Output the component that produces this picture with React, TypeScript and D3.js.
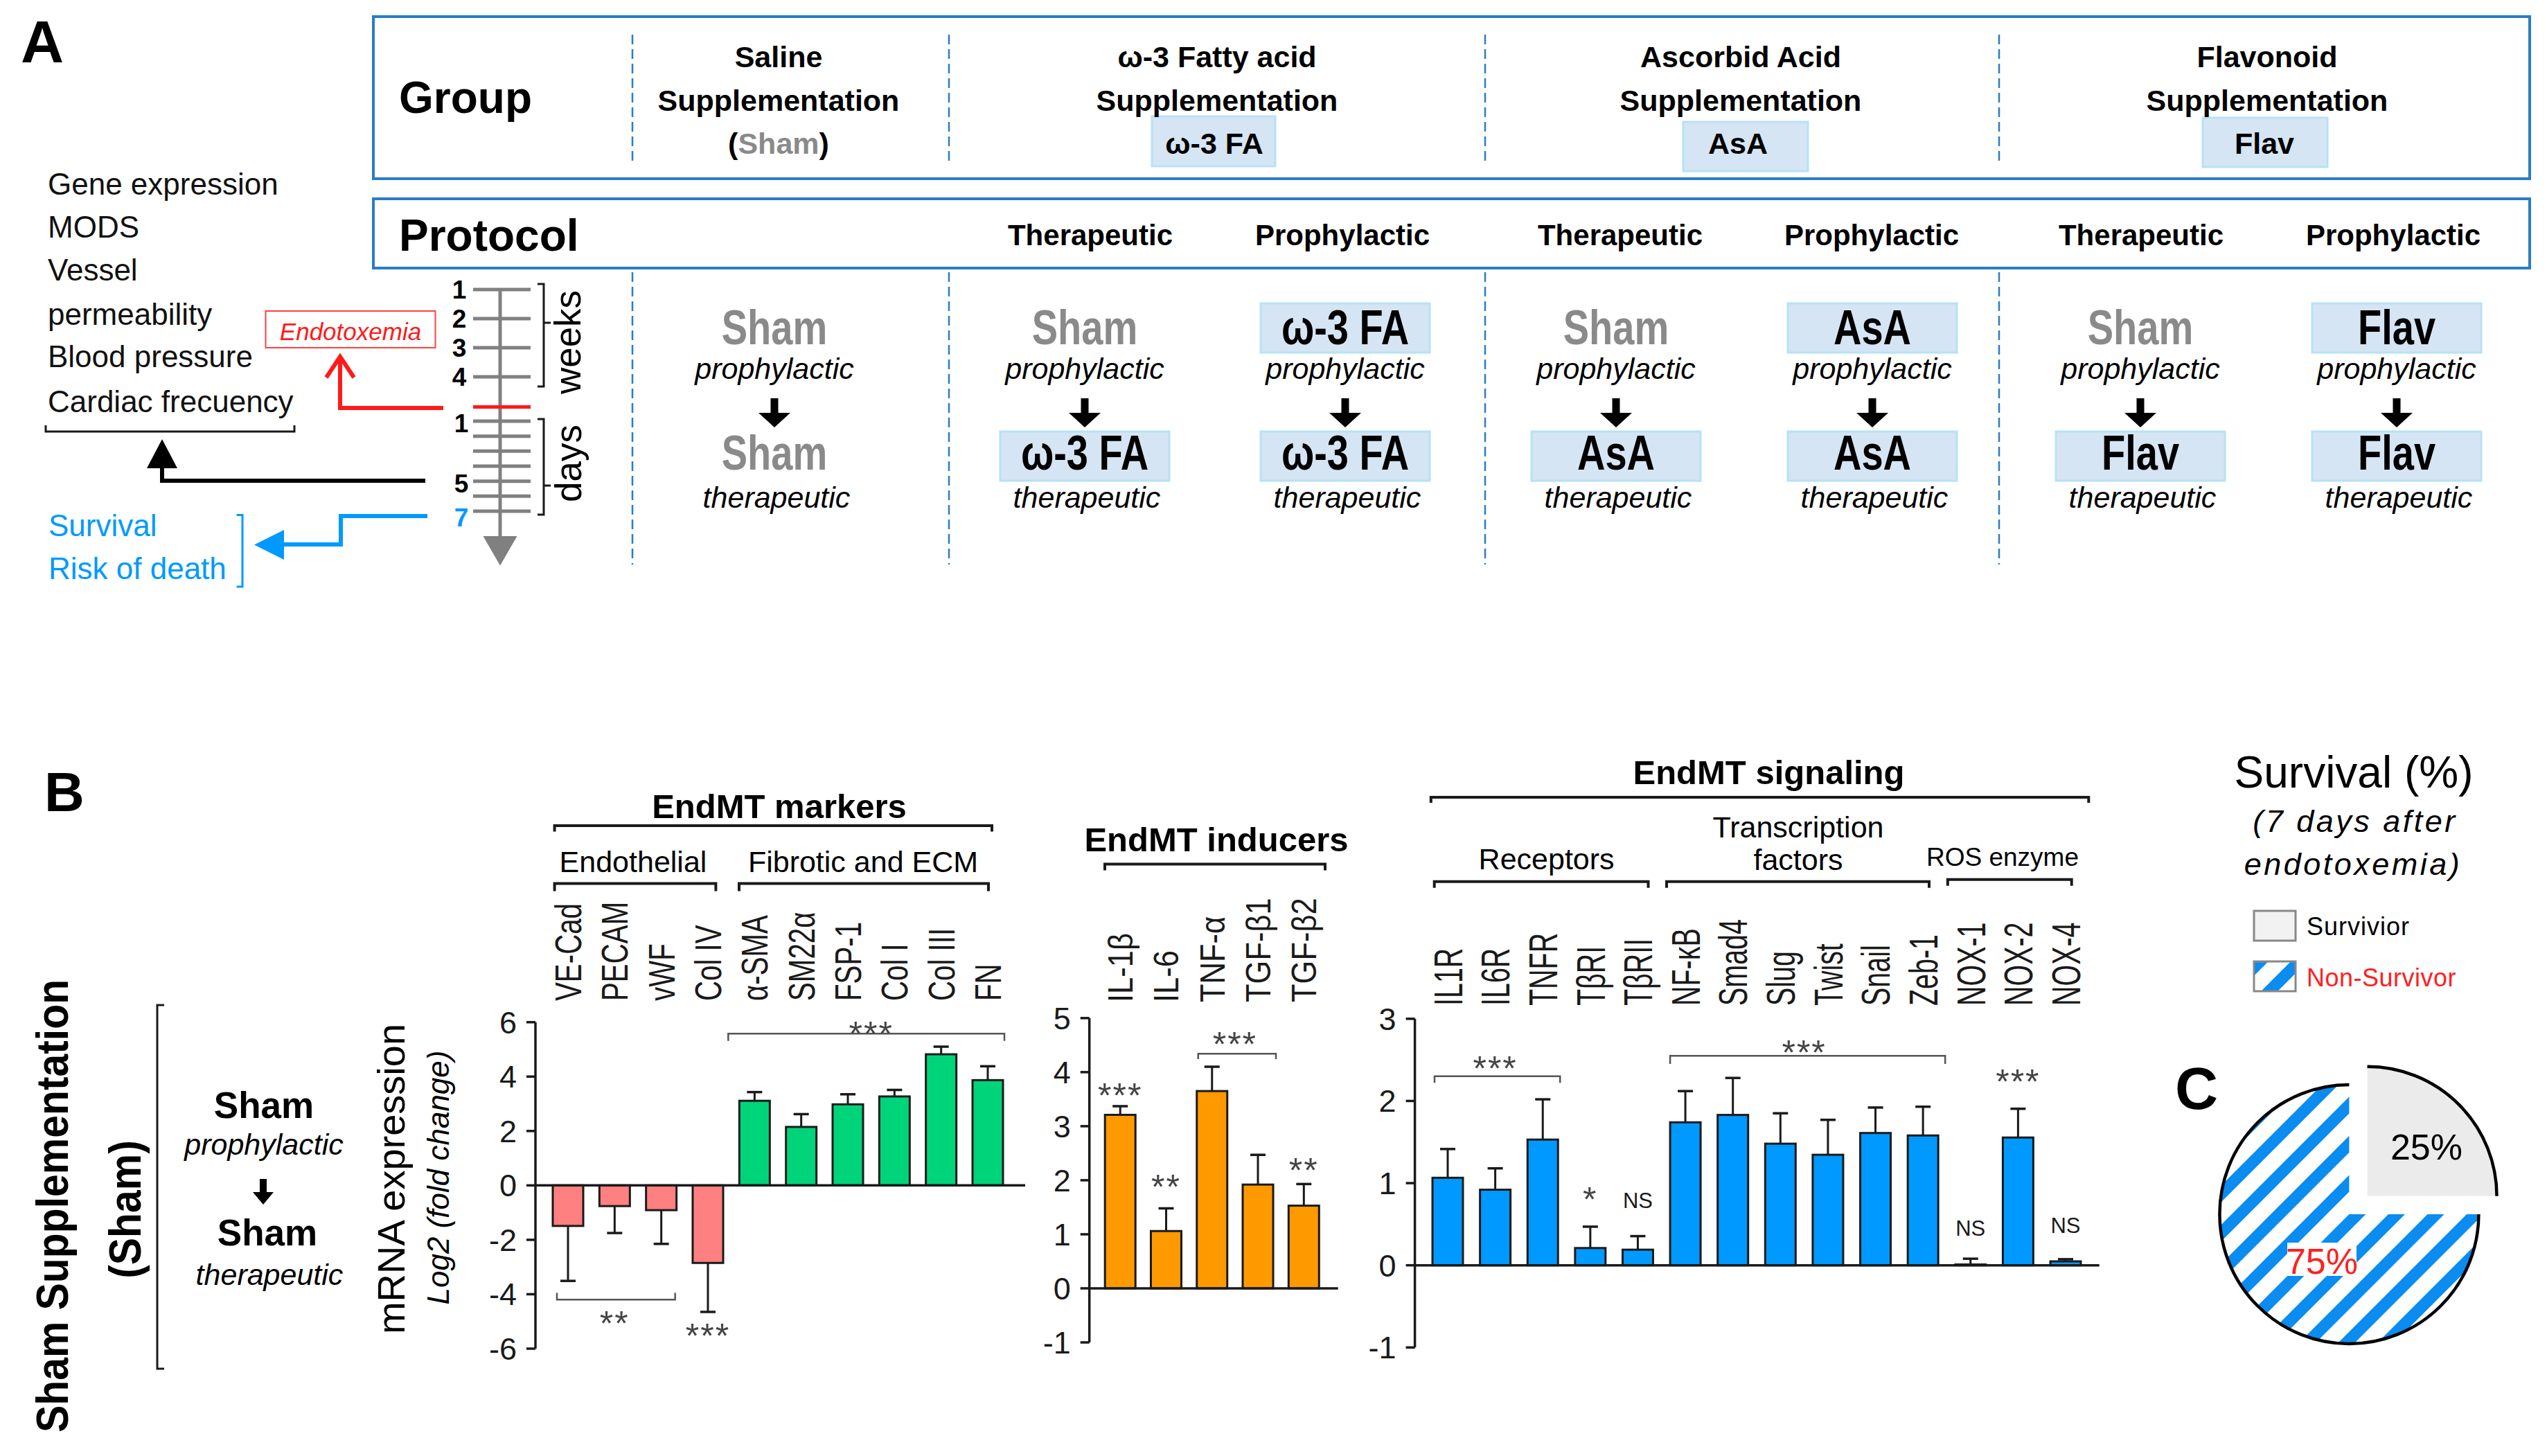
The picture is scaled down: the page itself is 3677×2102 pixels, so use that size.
import * as d3 from "d3";
import React from "react";

const SANS = "'Liberation Sans', Arial, Helvetica, sans-serif";
const INK = "#1a1a1a";
const BLUE = "#0099ff";
const FRAME = "#2a7dc6";
const BOXFILL = "#d6e5f3";
const BOXLINE = "#b6e2f7";
const GREY = "#8a8a8a";

// ---------- panel B : EndMT markers ----------
const markerCats = ["VE-Cad", "PECAM", "vWF", "Col IV", "α-SMA", "SM22α", "FSP-1", "Col I", "Col III", "FN"];
const markerVals = [-1.49, -0.76, -0.91, -2.85, 3.11, 2.15, 2.98, 3.27, 4.82, 3.87];
const markerErr = [2.02, 0.99, 1.24, 1.8, 0.32, 0.47, 0.37, 0.24, 0.28, 0.51];
const markerKind = ["endo", "endo", "endo", "endo", "fib", "fib", "fib", "fib", "fib", "fib"];
const markerTicks = [-6, -4, -2, 0, 2, 4, 6];
const markerBrackets = [
  { from: "α-SMA", to: "FN", level: 5.58, end: 5.31, padL: 16, padR: 2 },
  { from: "VE-Cad", to: "vWF", level: -4.2, end: -3.95, padL: -6, padR: -2 },
];
const markerStars = [
  { cats: ["α-SMA", "FN"], level: 5.8, text: "***" },
  { cats: ["VE-Cad", "vWF"], level: -4.85, text: "**" },
  { cats: ["Col IV"], level: -5.3, text: "***" },
];

// ---------- EndMT inducers ----------
const inducerCats = ["IL-1β", "IL-6", "TNF-α", "TGF-β1", "TGF-β2"];
const inducerVals = [3.21, 1.06, 3.65, 1.92, 1.53];
const inducerErr = [0.16, 0.42, 0.45, 0.55, 0.4];
const inducerTicks = [-1, 0, 1, 2, 3, 4, 5];
const inducerBrackets = [{ from: "TNF-α", to: "TGF-β1", level: 4.34, end: 4.24, padL: -2, padR: 4 }];
const inducerStars = [
  { cats: ["IL-1β"], level: 3.68, text: "***" },
  { cats: ["IL-6"], level: 1.99, text: "**" },
  { cats: ["TNF-α", "TGF-β1"], level: 4.62, text: "***" },
  { cats: ["TGF-β2"], level: 2.29, text: "**" },
];

// ---------- EndMT signaling ----------
const signalCats = ["IL1R", "IL6R", "TNFR", "TβRI", "TβRII", "NF-κB", "Smad4", "Slug", "Twist", "Snail", "Zeb-1", "NOX-1", "NOX-2", "NOX-4"];
const signalVals = [1.065, 0.92, 1.53, 0.21, 0.19, 1.74, 1.83, 1.48, 1.345, 1.61, 1.58, 0.01, 1.555, 0.048];
const signalErr = [0.35, 0.26, 0.49, 0.26, 0.165, 0.38, 0.45, 0.37, 0.425, 0.31, 0.35, 0.07, 0.35, 0.026];
const signalTicks = [-1, 0, 1, 2, 3];
const signalBrackets = [
  { from: "IL1R", to: "TNFR", level: 2.3, end: 2.22, padL: -3, padR: 3 },
  { from: "NF-κB", to: "Zeb-1", level: 2.55, end: 2.45, padL: 0, padR: 10 },
];
const signalStars = [
  { cats: ["IL1R", "TNFR"], level: 2.47, text: "***" },
  { cats: ["NF-κB", "Zeb-1"], level: 2.66, text: "***" },
  { cats: ["NOX-2"], level: 2.31, text: "***" },
  { cats: ["TβRI"], level: 0.87, text: "*" },
];
const signalNS = [
  { cats: ["TβRII"], level: 0.79 },
  { cats: ["NOX-1"], level: 0.45 },
  { cats: ["NOX-4"], level: 0.49 },
];

// ---------- panel C ----------
const survival = [
  { label: "Survivior", value: 25 },
  { label: "Non-Survivor", value: 75 },
];

// ---------- panel A ----------
const outcomes = ["Gene expression", "MODS", "Vessel", "permeability", "Blood pressure", "Cardiac frecuency"];
const weekTicks = [1, 2, 3, 4];
const dayTicks = [1, 2, 3, 4, 5, 6, 7];
const dayLabels = [1, 5, 7];
const groups = [
  { lines: ["Saline", "Supplementation"], abbr: "Sham" },
  { lines: ["ω-3 Fatty acid", "Supplementation"], abbr: "ω-3 FA" },
  { lines: ["Ascorbid Acid", "Supplementation"], abbr: "AsA" },
  { lines: ["Flavonoid", "Supplementation"], abbr: "Flav" },
];
const protocols = ["Therapeutic", "Prophylactic", "Therapeutic", "Prophylactic", "Therapeutic", "Prophylactic"];
const schemes = [
  ["Sham", "Sham"],
  ["Sham", "ω-3 FA"],
  ["ω-3 FA", "ω-3 FA"],
  ["Sham", "AsA"],
  ["AsA", "AsA"],
  ["Sham", "Flav"],
  ["Flav", "Flav"],
];

// layout (pixel positions of the figure)
const groupCx = [1124, 1757, 2513, 3273];
const groupBox = [null, [1663, 168, 178, 72], [2430, 176, 180, 71], [3180, 170, 180, 71]];
const protoCx = [1574, 1938, 2339, 2702, 3091, 3455];
const schemeCx = [1118, 1566, 1942, 2333, 2703, 3090, 3460];
const dashX = [913, 1370, 2144, 2886];
const outcomeY = [280.6, 343.4, 405.2, 468.6, 530.3, 594.8];

type BarProps = {
  cats: string[];
  vals: number[];
  errs: number[];
  fill: (i: number) => string;
  xr: [number, number];
  yd: [number, number];
  yr: [number, number];
  axisX: number;
  zeroEnd: number;
  ticks: number[];
  labBottom: number;
  labFont: number;
  labSx: number;
  brackets: any[];
  stars: any[];
  ns?: any[];
};

function BarPanel(p: BarProps) {
  const x = d3.scalePoint<string>().domain(p.cats).range(p.xr);
  const y = d3.scaleLinear().domain(p.yd).range(p.yr);
  const bw = 44;
  const cx = (cs: string[]) => d3.mean(cs, (c) => x(c) as number) as number;
  return (
    <g fontFamily={SANS}>
      {p.cats.map((c) => (
        <text
          key={"l" + c}
          transform={`translate(${(x(c) as number) + 0.358 * p.labFont},${p.labBottom}) rotate(-90) scale(${p.labSx},1)`}
          fontSize={p.labFont}
          fill={INK}
        >
          {c}
        </text>
      ))}
      <line x1={p.axisX} x2={p.axisX} y1={y(p.yd[0])} y2={y(p.yd[1])} stroke={INK} strokeWidth={3.5} />
      {p.ticks.map((t) => (
        <g key={"t" + t}>
          <line x1={p.axisX - 13} x2={p.axisX} y1={y(t)} y2={y(t)} stroke={INK} strokeWidth={3.5} />
          <text x={p.axisX - 27} y={y(t) + 16} textAnchor="end" fontSize={45} fill={INK}>
            {String(t)}
          </text>
        </g>
      ))}
      {p.cats.map((c, i) => {
        const v = p.vals[i];
        const e = v >= 0 ? v + p.errs[i] : v - p.errs[i];
        const xc = x(c) as number;
        return (
          <g key={"b" + c}>
            <line x1={xc} x2={xc} y1={y(v)} y2={y(e)} stroke={INK} strokeWidth={3} />
            <line x1={xc - 11} x2={xc + 11} y1={y(e)} y2={y(e)} stroke={INK} strokeWidth={3.5} />
            <rect
              x={xc - bw / 2}
              y={y(Math.max(0, v))}
              width={bw}
              height={Math.abs(y(v) - y(0))}
              fill={p.fill(i)}
              stroke={INK}
              strokeWidth={3}
            />
          </g>
        );
      })}
      <line x1={p.axisX} x2={p.zeroEnd} y1={y(0)} y2={y(0)} stroke={INK} strokeWidth={3.5} />
      {p.brackets.map((b, i) => {
        const x1 = (x(b.from) as number) - bw / 2 - b.padL;
        const x2 = (x(b.to) as number) + bw / 2 + b.padR;
        return (
          <path
            key={"k" + i}
            d={`M${x1},${y(b.end)}V${y(b.level)}H${x2}V${y(b.end)}`}
            fill="none"
            stroke="#555"
            strokeWidth={2.5}
          />
        );
      })}
      {p.stars.map((s, i) => (
        <text
          key={"s" + i}
          x={cx(s.cats)}
          y={y(s.level) + 26}
          textAnchor="middle"
          fontSize={50}
          letterSpacing={2}
          fill="#444"
        >
          {s.text}
        </text>
      ))}
      {(p.ns || []).map((s, i) => (
        <text key={"n" + i} x={cx(s.cats)} y={y(s.level) + 11} textAnchor="middle" fontSize={31} fill={INK}>
          NS
        </text>
      ))}
    </g>
  );
}

function Bracket({ x1, x2, y, drop }: { x1: number; x2: number; y: number; drop: number }) {
  return <path d={`M${x1},${y + drop}V${y}H${x2}V${y + drop}`} fill="none" stroke={INK} strokeWidth={4} />;
}

function DownArrow({ x, y1, y2, shaft, head, hl }: any) {
  return (
    <g>
      <rect x={x - shaft / 2} y={y1} width={shaft} height={y2 - y1 - hl + 2} fill="#000" />
      <path d={`M${x - head / 2},${y2 - hl}L${x + head / 2},${y2 - hl}L${x},${y2}Z`} fill="#000" />
    </g>
  );
}

function PanelA() {
  const weekY = d3.scaleLinear().domain([1, 4]).range([418, 544]);
  const dayY = d3.scaleLinear().domain([1, 7]).range([608, 738]);
  return (
    <g fontFamily={SANS}>
      <text x={30} y={90} fontSize={86} fontWeight="bold">A</text>
      {/* frames */}
      <rect x={539} y={24} width={3113} height={234} fill="none" stroke={FRAME} strokeWidth={4} />
      <rect x={539} y={287} width={3113} height={100} fill="none" stroke={FRAME} strokeWidth={4} />
      {dashX.map((dx) => (
        <g key={dx}>
          <line x1={dx} x2={dx} y1={50} y2={238} stroke={FRAME} strokeWidth={2.5} strokeDasharray="14,7" />
          <line x1={dx} x2={dx} y1={393} y2={815} stroke={FRAME} strokeWidth={2.5} strokeDasharray="14,7" />
        </g>
      ))}
      <text x={576} y={163} fontSize={64} fontWeight="bold">Group</text>
      <text x={576} y={362} fontSize={64} fontWeight="bold">Protocol</text>
      {groups.map((g, i) => (
        <g key={i} fontWeight="bold" fontSize={43} textAnchor="middle">
          {groupBox[i] && (
            <rect
              x={groupBox[i]![0]}
              y={groupBox[i]![1]}
              width={groupBox[i]![2]}
              height={groupBox[i]![3]}
              fill={BOXFILL}
              stroke={BOXLINE}
              strokeWidth={3}
            />
          )}
          <text x={groupCx[i]} y={97}>{g.lines[0]}</text>
          <text x={groupCx[i]} y={160}>{g.lines[1]}</text>
          {i === 0 ? (
            <text x={groupCx[i]} y={222}>
              (<tspan fill={GREY}>{g.abbr}</tspan>)
            </text>
          ) : (
            <text x={groupCx[i] - 4} y={222}>{g.abbr}</text>
          )}
        </g>
      ))}
      {protocols.map((p, i) => (
        <text key={i} x={protoCx[i]} y={354} fontSize={42} fontWeight="bold" textAnchor="middle">
          {p}
        </text>
      ))}
      {schemes.map((s, i) => {
        const cx = schemeCx[i];
        return (
          <g key={i}>
            {s[0] !== "Sham" && (
              <rect x={cx - 122} y={438} width={244} height={71} fill={BOXFILL} stroke={BOXLINE} strokeWidth={3} />
            )}
            {s[1] !== "Sham" && (
              <rect x={cx - 122} y={623} width={244} height={71} fill={BOXFILL} stroke={BOXLINE} strokeWidth={3} />
            )}
            <text
              transform={`translate(${cx},497) scale(0.8,1)`}
              textAnchor="middle"
              fontSize={70}
              fontWeight="bold"
              fill={s[0] === "Sham" ? GREY : "#000"}
            >
              {s[0]}
            </text>
            <text x={cx} y={547} textAnchor="middle" fontSize={43} fontStyle="italic">prophylactic</text>
            <DownArrow x={cx} y1={575} y2={617} shaft={11} head={46} hl={21} />
            <text
              transform={`translate(${cx},678) scale(0.8,1)`}
              textAnchor="middle"
              fontSize={70}
              fontWeight="bold"
              fill={s[1] === "Sham" ? GREY : "#000"}
            >
              {s[1]}
            </text>
            <text x={cx + 3} y={733} textAnchor="middle" fontSize={43} fontStyle="italic">therapeutic</text>
          </g>
        );
      })}
      {/* outcomes list */}
      {outcomes.map((o, i) => (
        <text key={o} x={69} y={outcomeY[i]} fontSize={44} fill="#111">
          {o}
        </text>
      ))}
      <path d="M66,614V623H425V614" fill="none" stroke={INK} strokeWidth={3} />
      <path d="M614,694H234V672" fill="none" stroke="#000" strokeWidth={6} />
      <path d="M212,676L256,676L234,634Z" fill="#000" />
      {/* endotoxemia */}
      <path d="M640,589H491V518" fill="none" stroke="#ff1a1a" strokeWidth={6} />
      <path d="M471,545L491,515L511,545" fill="none" stroke="#ff1a1a" strokeWidth={6} />
      <rect x={383.5} y={449} width={245} height={53} fill="#fff" stroke="#ff4040" strokeWidth={2} />
      <text x={506} y={491} textAnchor="middle" fontSize={35} fontStyle="italic" fill="#ff1a1a">Endotoxemia</text>
      {/* timeline */}
      <line x1={722} x2={722} y1={418} y2={778} stroke="#808080" strokeWidth={5} />
      <path d="M697.5,774L746.5,774L722,816.5Z" fill="#808080" />
      {weekTicks.map((w) => (
        <g key={"w" + w}>
          <line x1={683} x2={766} y1={weekY(w)} y2={weekY(w)} stroke="#808080" strokeWidth={5} />
          <text x={663} y={weekY(w) + 13} textAnchor="middle" fontSize={37} fontWeight="bold">{w}</text>
        </g>
      ))}
      <line x1={683} x2={766} y1={587.5} y2={587.5} stroke="#ff1a1a" strokeWidth={5} />
      {dayTicks.map((d) => (
        <line key={"d" + d} x1={683} x2={766} y1={dayY(d)} y2={dayY(d)} stroke="#808080" strokeWidth={5} />
      ))}
      {dayLabels.map((d) => (
        <text
          key={"dl" + d}
          x={666}
          y={dayY(d) + (d === 7 ? 22 : 16)}
          textAnchor="middle"
          fontSize={37}
          fontWeight="bold"
          fill={d === 7 ? BLUE : "#000"}
        >
          {d}
        </text>
      ))}
      <path d="M776,410H785V558H776M785,466H795" fill="none" stroke={INK} strokeWidth={3} />
      <path d="M776,605H785V743H776M785,701H795" fill="none" stroke={INK} strokeWidth={3} />
      <text transform="translate(838,494) rotate(-90)" textAnchor="middle" fontSize={53}>weeks</text>
      <text transform="translate(839,669) rotate(-90)" textAnchor="middle" fontSize={53}>days</text>
      {/* survival arrow */}
      <path d="M617,745H492V786H405" fill="none" stroke={BLUE} strokeWidth={6} />
      <path d="M410,765L410,808L367,786.5Z" fill={BLUE} />
      <path d="M341.6,743.6H350V847H341.6" fill="none" stroke={BLUE} strokeWidth={3} />
      <text x={70} y={774} fontSize={44} fill={BLUE}>Survival</text>
      <text x={70} y={836} fontSize={44} fill={BLUE}>Risk of death</text>
    </g>
  );
}

function PanelBLeft() {
  return (
    <g fontFamily={SANS}>
      <text x={64} y={1171} fontSize={80} fontWeight="bold">B</text>
      <text
        transform="translate(98,1741) rotate(-90) scale(0.92,1)"
        textAnchor="middle"
        fontSize={64}
        fontWeight="bold"
      >
        Sham Supplementation
      </text>
      <text
        transform="translate(203,1746) rotate(-90) scale(0.92,1)"
        textAnchor="middle"
        fontSize={64}
        fontWeight="bold"
      >
        (Sham)
      </text>
      <path d="M237,1451H227V1976H237" fill="none" stroke={INK} strokeWidth={3} />
      <text x={381} y={1614} textAnchor="middle" fontSize={53} fontWeight="bold">Sham</text>
      <text x={381} y={1667} textAnchor="middle" fontSize={43} fontStyle="italic">prophylactic</text>
      <DownArrow x={380} y1={1702} y2={1739} shaft={10} head={30} hl={18} />
      <text x={386} y={1798} textAnchor="middle" fontSize={53} fontWeight="bold">Sham</text>
      <text x={389} y={1855} textAnchor="middle" fontSize={43} fontStyle="italic">therapeutic</text>
      <text transform="translate(584,1702) rotate(-90)" textAnchor="middle" fontSize={56}>mRNA expression</text>
      <text transform="translate(648,1700) rotate(-90)" textAnchor="middle" fontSize={44} fontStyle="italic">
        Log2 (fold change)
      </text>
    </g>
  );
}

function GroupHeads() {
  return (
    <g fontFamily={SANS} textAnchor="middle">
      <text x={1125} y={1181} fontSize={49} fontWeight="bold">EndMT markers</text>
      <path d="M800.6,1200.6V1192H1432V1200.6" fill="none" stroke={INK} strokeWidth={4} />
      <text x={914} y={1259} fontSize={43}>Endothelial</text>
      <Bracket x1={800.6} x2={1033.4} y={1275.6} drop={11} />
      <text x={1246} y={1259} fontSize={43}>Fibrotic and ECM</text>
      <Bracket x1={1067} x2={1427} y={1275.6} drop={11} />

      <text x={1756} y={1228.6} fontSize={49} fontWeight="bold">EndMT inducers</text>
      <Bracket x1={1595} x2={1913} y={1247.6} drop={9} />

      <text x={2553.5} y={1131.5} fontSize={49} fontWeight="bold">EndMT signaling</text>
      <Bracket x1={2065.8} x2={3015.3} y={1151} drop={8} />
      <text x={2232.6} y={1254.5} fontSize={43}>Receptors</text>
      <Bracket x1={2070.7} x2={2379.5} y={1272.7} drop={9} />
      <text x={2596} y={1208.5} fontSize={43}>Transcription</text>
      <text x={2596} y={1255.8} fontSize={43}>factors</text>
      <Bracket x1={2406} x2={2785} y={1272.7} drop={9} />
      <text x={2891} y={1249.7} fontSize={37}>ROS enzyme</text>
      <Bracket x1={2811.8} x2={2990.7} y={1269.7} drop={9} />
    </g>
  );
}

function PanelC() {
  const R = 187;
  const pie = d3
    .pie<{ label: string; value: number }>()
    .sort(null)
    .value((d) => d.value);
  const arcs = pie(survival);
  const arc = d3.arc<d3.PieArcDatum<{ label: string; value: number }>>().innerRadius(0).outerRadius(R);
  const center: [number, number] = [3391.4, 1753];
  const outline = (a0: number, a1: number) => {
    const p = d3.path();
    p.arc(0, 0, R, a0 - Math.PI / 2, a1 - Math.PI / 2);
    return p.toString();
  };
  return (
    <g fontFamily={SANS}>
      <defs>
        <pattern id="stripes" patternUnits="userSpaceOnUse" width={40} height={40} patternTransform="rotate(45)">
          <rect width={40} height={40} fill="#fff" />
          <rect width={17} height={40} fill="#0a8cf0" />
        </pattern>
      </defs>
      <text x={3398} y={1137} textAnchor="middle" fontSize={64}>Survival (%)</text>
      <text x={3400} y={1201} textAnchor="middle" fontSize={45} fontStyle="italic" letterSpacing={3.5}>
        (7 days after
      </text>
      <text x={3397} y={1263} textAnchor="middle" fontSize={45} fontStyle="italic" letterSpacing={3.5}>
        endotoxemia)
      </text>
      <rect x={3254} y={1315} width={60} height={43} fill="#f2f2f2" stroke="#888" strokeWidth={3} />
      <text x={3330} y={1350} fontSize={36} letterSpacing={1}>{survival[0].label}</text>
      <rect x={3254} y={1388} width={60} height={43} fill="url(#stripes)" stroke="#888" strokeWidth={3} />
      <text x={3330} y={1424} fontSize={36} letterSpacing={0.5} fill="#ff2020">{survival[1].label}</text>
      <text x={3140} y={1601} fontSize={86} fontWeight="bold">C</text>
      {arcs.map((a, i) => {
        const mid = (a.startAngle + a.endAngle) / 2;
        const off = i === 0 ? 37 : 0;
        const cx = center[0] + off * Math.sin(mid);
        const cy = center[1] - off * Math.cos(mid);
        return (
          <g key={i} transform={`translate(${cx},${cy})`}>
            <path d={arc(a) as string} fill={i === 0 ? "#ebebeb" : "url(#stripes)"} />
            <path d={outline(a.startAngle, a.endAngle)} fill="none" stroke="#000" strokeWidth={4.5} />
          </g>
        );
      })}
      <text x={3503} y={1674} textAnchor="middle" fontSize={52}>25%</text>
      <rect x={3302} y={1794} width={100} height={48} fill="#fff" />
      <text x={3352} y={1839} textAnchor="middle" fontSize={52} fill="#ff2020">75%</text>
    </g>
  );
}

export default function App() {
  return (
    <svg
      width={3677}
      height={2102}
      viewBox="0 0 3677 2102"
      style={{ position: "absolute", left: 0, top: 0, background: "#fff" }}
    >
      <rect width={3677} height={2102} fill="#fff" />
      <PanelA />
      <PanelBLeft />
      <GroupHeads />
      <BarPanel
        cats={markerCats}
        vals={markerVals}
        errs={markerErr}
        fill={(i) => (markerKind[i] === "endo" ? "#ff8080" : "#00d47b")}
        xr={[820, 1426]}
        yd={[-6, 6]}
        yr={[1947, 1475.7]}
        axisX={773}
        zeroEnd={1480}
        ticks={markerTicks}
        labBottom={1445}
        labFont={53}
        labSx={0.76}
        brackets={markerBrackets}
        stars={markerStars}
      />
      <BarPanel
        cats={inducerCats}
        vals={inducerVals}
        errs={inducerErr}
        fill={() => "#ff9900"}
        xr={[1617.2, 1882.3]}
        yd={[-1, 5]}
        yr={[1938, 1469.8]}
        axisX={1572.7}
        zeroEnd={1931.7}
        ticks={inducerTicks}
        labBottom={1447}
        labFont={50}
        labSx={0.87}
        brackets={inducerBrackets}
        stars={inducerStars}
      />
      <BarPanel
        cats={signalCats}
        vals={signalVals}
        errs={signalErr}
        fill={() => BLUE}
        xr={[2090, 2982]}
        yd={[-1, 3]}
        yr={[1945.3, 1470.8]}
        axisX={2042.6}
        zeroEnd={3030.7}
        ticks={signalTicks}
        labBottom={1452}
        labFont={58}
        labSx={0.68}
        brackets={signalBrackets}
        stars={signalStars}
        ns={signalNS}
      />
      <PanelC />
    </svg>
  );
}
